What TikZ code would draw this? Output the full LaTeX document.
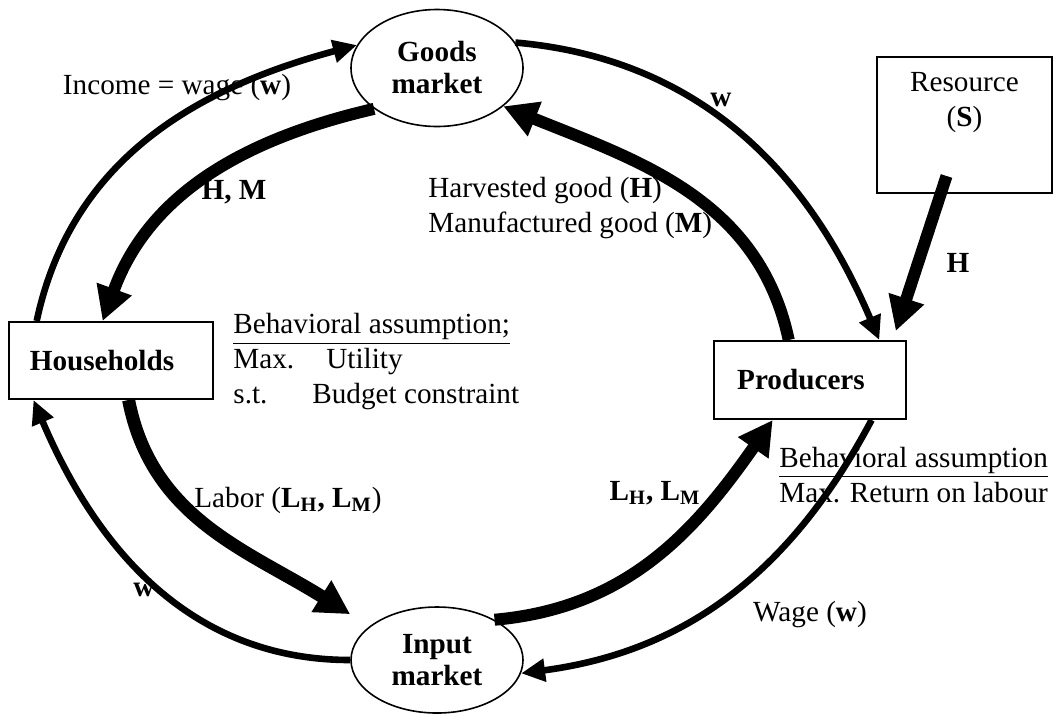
\documentclass[tikz,border=0pt]{standalone}
\usepackage{fontspec}
\setmainfont{Liberation Serif}
\usetikzlibrary{arrows.meta,positioning,shapes.geometric}
\begin{document}
\begin{tikzpicture}[x=0.5pt,y=0.5pt,
    every node/.style={font=\fontsize{14.6}{17.5}\selectfont,inner sep=0pt},
    sector/.style={draw,line width=1pt,minimum width=102pt,minimum height=38.5pt},
    market/.style={draw,ellipse,line width=0.8pt,minimum width=86pt,minimum height=58.5pt,
        align=center,font=\fontsize{14.6}{16}\selectfont\bfseries},
    flow/.style={line width=3.3pt,-{Triangle[length=12pt,width=11pt]}},
    bigflow/.style={line width=6pt,-{Triangle[length=17pt,width=17.5pt]}}]
    \useasboundingbox (0,0) rectangle (1053,-713);
    \node[market] (goods) at (437,-68) {Goods\\market};
    \node[market,minimum height=53pt] (inp) at (437,-660) {Input\\market};
    \node[sector] (hh) at (111,-360.5) {\textbf{Households}\hspace*{9pt}};
    \node[sector,minimum width=96pt,minimum height=39pt] (prod) at (810,-380) {\textbf{Producers}\hspace*{9pt}};
    \node[sector,minimum width=87.5pt,minimum height=68pt] (res) at (964.5,-125) {};
    \node[below=8pt of res.north,align=center] (restext) {Resource\\(\textbf{S})};
    \node (income) at (177,-88) {Income = wage (\textbf{w})};
    \node (hm) at (234,-192) {\textbf{H, M}};
    \node[anchor=west,align=left] (goodslab) at (428,-208) {Harvested good (\textbf{H})\\Manufactured good (\textbf{M})};
    \node (wtop) at (721,-100) {\textbf{w}};
    \node (hres) at (958,-263) {\textbf{H}};
    \node[anchor=west,align=left] (hhbeh) at (233,-362) {\underline{Behavioral assumption;}\\
        \makebox[46.5pt][l]{Max.}Utility\\\makebox[39.5pt][l]{s.t.}Budget constraint};
    \node[anchor=west,align=left] (prodbeh) at (779,-475) {\underline{Behavioral assumption}\\Max. Return on labour};
    \node (labor) at (288,-500) {Labor (\textbf{L\textsubscript{H}, L\textsubscript{M}})};
    \node (wbot) at (144,-590) {\textbf{w}};
    \node (lab) at (655,-493) {\textbf{L\textsubscript{H}, L\textsubscript{M}}};
    \node (wage) at (810,-615) {Wage (\textbf{w})};
    \coordinate (hsrc) at ([xshift=-9pt,yshift=9pt]res.south);
    \coordinate (labin) at (inp.west |- inp.north);
    \draw[flow] (hh.152) to[out=78,in=195] (goods.164);
    \draw[bigflow] (goods.213) to[out=193,in=70] (hh.102);
    \draw[flow] (goods.18) to[out=-5,in=113] (prod.30);
    \draw[bigflow] (prod.118) to[out=102,in=-22] (goods.-30);
    \draw[bigflow] (hsrc) -- ([yshift=4.5pt]prod.25);
    \draw[bigflow,line width=6.5pt] (hh.-66) to[out=-79,in=148] ([yshift=-4pt]labin);
    \draw[flow] (inp.west) to[out=180,in=-67] (hh.207);
    \draw[bigflow] (inp.35) to[out=5,in=235] (prod.-133);
    \draw[flow] (prod.-33) to[out=242,in=7.5] (inp.-9);
\end{tikzpicture}
\end{document}
